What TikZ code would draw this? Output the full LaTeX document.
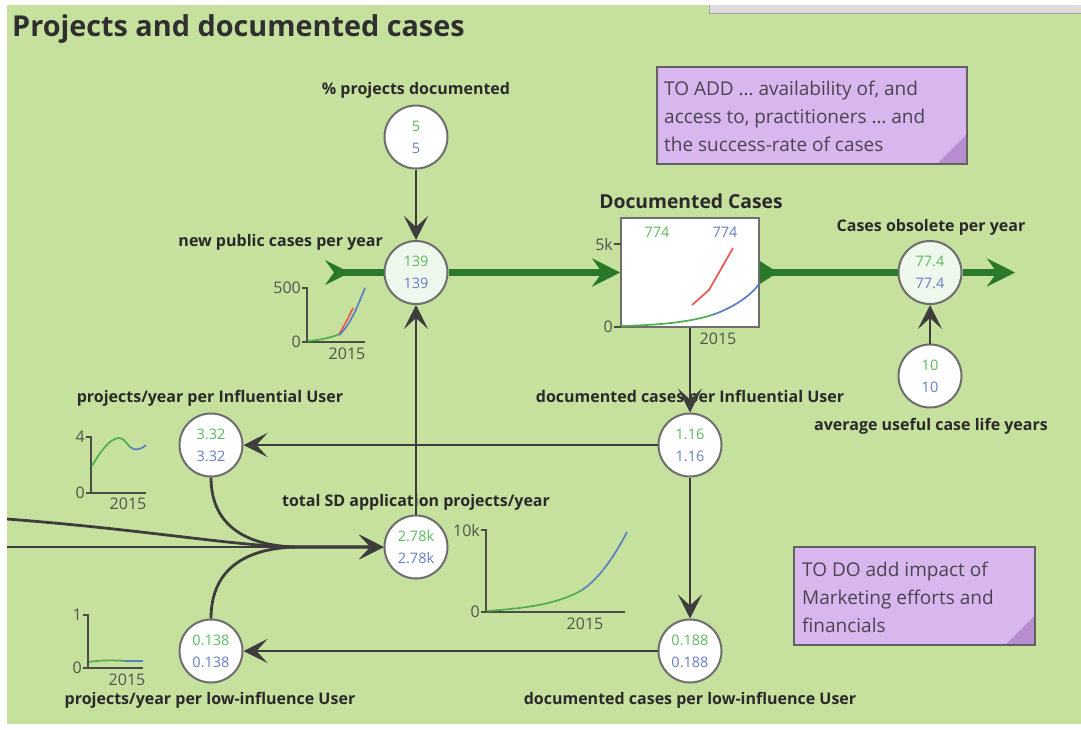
\documentclass[tikz,border=0pt]{standalone}
\usepackage{fontspec}
\setmainfont{Open Sans}
\usetikzlibrary{arrows.meta}

\definecolor{bg}{HTML}{C6E09E}
\definecolor{titletext}{HTML}{2F2F2F}
\definecolor{lbltext}{HTML}{2A2A2A}
\definecolor{circbd}{HTML}{6E6E6E}
\definecolor{valvefill}{HTML}{EEF8EC}
\definecolor{valg}{HTML}{5DBA5F}
\definecolor{valb}{HTML}{6A7DC6}
\definecolor{conncol}{HTML}{3D3D3D}
\definecolor{flowcol}{HTML}{2A782A}
\definecolor{axiscol}{HTML}{4A4F45}
\definecolor{ticktext}{HTML}{50554C}
\definecolor{lineg}{HTML}{4FAE4F}
\definecolor{lineb}{HTML}{5A7FC2}
\definecolor{liner}{HTML}{E8584F}
\definecolor{notefill}{HTML}{D8B6EE}
\definecolor{notefold}{HTML}{B78FD0}
\definecolor{notebd}{HTML}{626262}
\definecolor{notetext}{HTML}{4B4450}
\definecolor{barcol}{HTML}{DCDDDB}
\definecolor{bardk}{HTML}{A3A5A1}

\begin{document}
\begin{tikzpicture}[x=1pt,y=-1pt,
  circ/.style={circle, draw=circbd, line width=2pt, fill=white,
    minimum size=63pt, inner sep=0pt, align=center,
    font=\fontsize{14.5}{22}\selectfont},
  valve/.style={circ, fill=valvefill},
  stockbox/.style={rectangle, draw=circbd, line width=1.6pt, fill=white,
    minimum width=138pt, minimum height=109pt, inner sep=0pt},
  lbl/.style={font=\bfseries\fontsize{16}{18}\selectfont, text=lbltext, inner sep=0pt},
  conn/.style={draw=conncol, line width=2.8pt,
    -{Stealth[length=24pt,width=24pt,inset=11pt]}},
  flow/.style={draw=flowcol, line width=6.5pt},
  flowend/.style={flow, -{Stealth[length=28pt,width=28pt,inset=10pt]}},
  axis/.style={draw=axiscol, line width=1.6pt},
  ticklbl/.style={font=\fontsize{16}{16}\selectfont, text=ticktext, inner sep=1pt},
  spark/.style={line width=1.7pt},
  notetxt/.style={font=\fontsize{19}{28}\selectfont, text=notetext, align=left, inner sep=0pt}
]
\useasboundingbox (0,0) rectangle (1081,729);
\fill[white] (0,0) rectangle (1081,729);
\fill[bg] (7,5) rectangle (1081,724);

% toolbar strip along the top edge
\fill[barcol] (709,5) rectangle (1081,13);
\draw[bardk, line width=1.5pt] (709.5,5) -- (709.5,13.5) -- (1081,13.5);

% title
\node[anchor=base west, font=\bfseries\fontsize{28.8}{32}\selectfont, text=titletext, inner sep=0pt]
  (title) at (12,36) {Projects and documented cases};

% sticky notes
\filldraw[fill=notefill, draw=notebd, line width=2pt] (657,67) rectangle (967,164);
\fill[notefold] (937,164) -- (967,134) -- (967,164) -- cycle;
\draw[notebd, line width=2pt] (657,67) rectangle (967,164);
\node[notetxt, anchor=west] (noteA) at (664,116)
  {TO ADD … availability of, and\\access to, practitioners … and\\the success-rate of cases};

\filldraw[fill=notefill, draw=notebd, line width=2pt] (794,547) rectangle (1035,645);
\fill[notefold] (1005,645) -- (1035,615) -- (1035,645) -- cycle;
\draw[notebd, line width=2pt] (794,547) rectangle (1035,645);
\node[notetxt, anchor=west] (noteB) at (802,597)
  {TO DO add impact of\\Marketing efforts and\\financials};

% variable labels
\node[lbl] (lpct) at (416,90) {\% projects documented};
\node[lbl, anchor=east] (lnew) at (383,242) {new public cases per year};
\node[lbl, font=\bfseries\fontsize{19.3}{21}\selectfont] (lstock) at (691,201) {Documented Cases};
\node[lbl] (lobs) at (931,227) {Cases obsolete per year};
\node[lbl] (llife) at (931,426) {average useful case life years};
\node[lbl] (ldinf) at (690,398) {documented cases per Influential User};
\node[lbl] (lpinf) at (210,398) {projects/year per Influential User};
\node[lbl] (ltot) at (416,502) {total SD application projects/year};
\node[lbl] (ldlow) at (690,700) {documented cases per low-influence User};
\node[lbl] (lplow) at (210,700) {projects/year per low-influence User};

% variables
\node[circ]  (pct)      at (416,137)   {\textcolor{valg}{5}\\\textcolor{valb}{5}};
\node[valve] (newpub)   at (416,272.5) {\textcolor{valg}{139}\\\textcolor{valb}{139}};
\node[valve] (obsolete) at (930,272.5) {\textcolor{valg}{77.4}\\\textcolor{valb}{77.4}};
\node[circ]  (life)     at (930,376)   {\textcolor{valg}{10}\\\textcolor{valb}{10}};
\node[circ]  (docInfl)  at (690,445)   {\textcolor{valg}{1.16}\\\textcolor{valb}{1.16}};
\node[circ]  (projInfl) at (211,445)   {\textcolor{valg}{3.32}\\\textcolor{valb}{3.32}};
\node[circ]  (total)    at (416,547)   {\textcolor{valg}{2.78k}\\\textcolor{valb}{2.78k}};
\node[circ]  (docLow)   at (690,651)   {\textcolor{valg}{0.188}\\\textcolor{valb}{0.188}};
\node[circ]  (projLow)  at (211,651)   {\textcolor{valg}{0.138}\\\textcolor{valb}{0.138}};

% stock with its embedded chart
\node[stockbox] (stock) at (690,272.5) {};
\node[font=\fontsize{14.5}{14}\selectfont, text=valg, inner sep=0pt] (sv1) at (657,232) {774};
\node[font=\fontsize{14.5}{14}\selectfont, text=valb, inner sep=0pt] (sv2) at (725,232) {774};
\draw[axiscol, line width=1.5pt] (614,244) -- (621,244) (614,327) -- (621,327);
\node[ticklbl, anchor=east] at (614,244) {5k};
\node[ticklbl, anchor=east] at (614,327) {0};
\node[ticklbl] at (718,339) {2015};
\draw[spark, lineg] (622,326) .. controls (660,325) and (690,322) .. (712,315);
\draw[spark, lineb] (712,315) .. controls (730,309) and (750,297) .. (759,284);
\draw[spark, liner] (692,305) -- (709,290) -- (733,248);

% sparkline: new public cases per year
\draw[axis] (302,288) -- (307,288) -- (307,342) -- (365,342) (302,342) -- (307,342);
\node[ticklbl, anchor=east] at (302,288) {500};
\node[ticklbl, anchor=east] at (302,342) {0};
\node[ticklbl] at (347,354) {2015};
\draw[spark, lineg] (308,341) .. controls (320,340) and (330,338) .. (340,334);
\draw[spark, liner] (339,334) .. controls (345,325) and (349,316) .. (353,308);
\draw[spark, lineb] (339,335) .. controls (350,326) and (358,305) .. (365,288);

% sparkline: projects/year per Influential User
\draw[axis] (86,437) -- (91,437) -- (91,493) -- (146,493) (86,493) -- (91,493);
\node[ticklbl, anchor=east] at (86,437) {4};
\node[ticklbl, anchor=east] at (86,493) {0};
\node[ticklbl] at (128,504) {2015};
\draw[spark, lineg] (92,466) .. controls (100,452) and (110,438) .. (119,438)
  .. controls (124,438) and (127,444) .. (130,447);
\draw[spark, lineb] (130,447) .. controls (135,451) and (140,450) .. (146,445);

% sparkline: total SD application projects/year
\draw[axis] (481,530) -- (486,530) -- (486,612) -- (625,612) (481,612) -- (486,612);
\node[ticklbl, anchor=east] at (481,530) {10k};
\node[ticklbl, anchor=east] at (481,612) {0};
\node[ticklbl] at (585,624) {2015};
\draw[spark, lineg] (487,611) .. controls (530,608) and (560,603) .. (582,590);
\draw[spark, lineb] (582,590) .. controls (600,578) and (615,555) .. (627,532);

% sparkline: projects/year per low-influence User
\draw[axis] (83,615) -- (88,615) -- (88,668) -- (143,668) (83,668) -- (88,668);
\node[ticklbl, anchor=east] at (83,615) {1};
\node[ticklbl, anchor=east] at (83,668) {0};
\node[ticklbl] at (127,680) {2015};
\draw[spark, lineg] (89,662) .. controls (100,660) and (115,660) .. (125,661);
\draw[spark, lineb] (125,661) -- (143,661);

% material flows
\fill[flowcol] (325,260) -- (350,272.5) -- (325,285) -- (334,272.5) -- cycle;
\coordinate (src) at (334,272.5);
\draw[flow] (src) -- (newpub.west);
\draw[flowend] (newpub.east) -- (stock.west);
\fill[flowcol] ([yshift=11.5pt]stock.east) -- ([xshift=18pt]stock.east) -- ([yshift=-11.5pt]stock.east) -- cycle;
\draw[flow] (stock.east) -- (obsolete.west);
\coordinate (sink) at (1015,272.5);
\draw[flowend] (obsolete.east) -- (sink);

% links
\coordinate (inA) at (7,519);
\coordinate (inB) at (7,547);
\coordinate (merge) at (300,547);
\draw[conn] (pct) -- (newpub);
\draw[conn] (total) -- (newpub);
\draw[conn] (stock.south) -- (docInfl);
\draw[conn] (docInfl) -- (docLow);
\draw[conn] (docInfl) -- (projInfl);
\draw[conn] (docLow) -- (projLow);
\draw[conn] (life) -- (obsolete);
\draw[conn] (inA) .. controls (150,530) and (240,547) .. (merge) -- (total.west);
\draw[conn] (inB) -- (total.west);
\draw[conn] (projInfl.south) .. controls (211,528) and (250,547) .. (merge) -- (total.west);
\draw[conn] (projLow.north) .. controls (211,566) and (250,547) .. (merge) -- (total.west);
\end{tikzpicture}
\end{document}
